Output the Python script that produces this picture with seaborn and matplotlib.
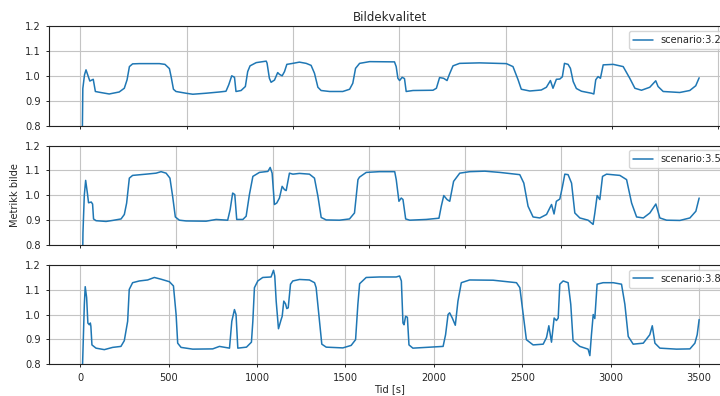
import matplotlib
matplotlib.use("Agg")
import matplotlib.pyplot as plt
from matplotlib.ticker import MultipleLocator
import seaborn as sns

# Scenario 3.2
t_32 = [0, 12, 20, 27, 45, 61, 71, 89, 136, 183, 207, 220, 231, 246, 278, 372, 398, 419, 427, 438,
        450, 497, 529, 591, 654, 685, 698, 712, 725, 732, 756, 776, 787, 798, 827, 874, 878, 889, 897, 913,
        928, 936, 949, 960, 971, 999, 1030, 1062, 1085, 1101, 1117, 1132, 1172, 1234, 1266, 1281, 1294, 1313, 1360, 1477,
        1485, 1493, 1501, 1513, 1524, 1532, 1564, 1658, 1674, 1689, 1708, 1724, 1736, 1752, 1783, 1877, 2003, 2034, 2058, 2073,
        2113, 2167, 2191, 2210, 2222, 2238, 2254, 2266, 2276, 2293, 2304, 2317, 2332, 2356, 2403, 2414, 2423, 2434, 2445, 2458,
        2505, 2552, 2583, 2607, 2638, 2677, 2705, 2716, 2740, 2818, 2865, 2893, 2909]
v_32 = [0.0, 0.95, 1.005, 1.025, 0.98, 0.987, 0.938, 0.935, 0.928, 0.936, 0.951, 0.985, 1.038, 1.049, 1.05, 1.05, 1.047, 1.03, 0.998, 0.947,
        0.938, 0.931, 0.927, 0.931, 0.936, 0.939, 0.965, 1.001, 0.995, 0.938, 0.942, 0.958, 1.018, 1.041, 1.054, 1.06, 1.052, 0.991, 0.975, 0.984,
        1.014, 1.007, 1.001, 1.018, 1.047, 1.051, 1.056, 1.051, 1.043, 1.011, 0.955, 0.942, 0.938, 0.938, 0.947, 0.971, 1.031, 1.051, 1.058, 1.057,
        1.038, 0.991, 0.982, 0.995, 0.99, 0.938, 0.942, 0.943, 0.951, 0.994, 0.991, 0.982, 1.009, 1.041, 1.051, 1.053, 1.05, 1.038, 0.985, 0.947,
        0.94, 0.944, 0.955, 0.982, 0.951, 0.987, 0.988, 0.997, 1.051, 1.047, 1.031, 0.978, 0.95, 0.939, 0.931, 0.928, 0.985, 0.998, 0.991, 1.045,
        1.047, 1.038, 0.991, 0.951, 0.943, 0.955, 0.981, 0.958, 0.938, 0.934, 0.942, 0.961, 0.993]

# Scenario 3.5
t_35 = [0, 14, 21, 28, 38, 43, 57, 64, 69, 82, 134, 168, 212, 229, 241, 255, 272, 342, 394, 420,
        446, 466, 480, 494, 515, 550, 654, 706, 766, 779, 792, 803, 813, 845, 862, 879, 897, 931, 975, 987,
        997, 1009, 1021, 1035, 1049, 1061, 1070, 1087, 1105, 1139, 1191, 1217, 1235, 1252, 1278, 1347, 1399, 1425, 1443, 1451,
        1486, 1555, 1634, 1642, 1656, 1668, 1677, 1691, 1712, 1798, 1864, 1876, 1889, 1906, 1920, 1940, 1972, 2024, 2102, 2180,
        2284, 2305, 2327, 2353, 2388, 2423, 2449, 2462, 2474, 2492, 2506, 2518, 2535, 2553, 2570, 2596, 2639, 2665, 2674, 2686,
        2700, 2714, 2735, 2804, 2839, 2865, 2891, 2926, 2960, 2991, 3012, 3047, 3116, 3168, 3199, 3216]
v_35 = [0.0, 0.85, 1.0, 1.06, 1.003, 0.97, 0.973, 0.965, 0.905, 0.898, 0.895, 0.899, 0.905, 0.923, 0.969, 1.069, 1.08, 1.085, 1.089, 1.095,
        1.089, 1.069, 0.996, 0.913, 0.9, 0.897, 0.896, 0.903, 0.9, 0.943, 1.009, 1.003, 0.903, 0.903, 0.916, 1.003, 1.076, 1.092, 1.096, 1.112,
        1.089, 0.963, 0.969, 0.989, 1.036, 1.023, 1.019, 1.089, 1.085, 1.088, 1.085, 1.069, 0.996, 0.911, 0.901, 0.9, 0.905, 0.929, 1.063, 1.073,
        1.092, 1.095, 1.095, 1.063, 0.976, 0.989, 0.983, 0.905, 0.9, 0.903, 0.908, 0.956, 0.999, 0.983, 0.976, 1.056, 1.089, 1.095, 1.097, 1.092,
        1.083, 1.049, 0.956, 0.913, 0.909, 0.923, 0.963, 0.925, 0.976, 0.985, 1.036, 1.085, 1.083, 1.049, 0.929, 0.909, 0.9, 0.883, 0.929, 0.999,
        0.983, 1.076, 1.085, 1.08, 1.063, 0.969, 0.913, 0.909, 0.929, 0.965, 0.909, 0.9, 0.899, 0.909, 0.936, 0.989]

# Scenario 3.8
t_38 = [0, 13, 23, 28, 36, 43, 51, 57, 60, 66, 89, 136, 183, 230, 249, 268, 277, 296, 334, 381,
        419, 457, 504, 527, 542, 551, 570, 636, 749, 787, 844, 857, 872, 881, 891, 940, 968, 976, 985, 1004,
        1032, 1079, 1093, 1100, 1108, 1121, 1136, 1142, 1151, 1161, 1168, 1176, 1189, 1202, 1240, 1296, 1325, 1334, 1353, 1366,
        1391, 1485, 1532, 1557, 1570, 1580,
        1617, 1692, 1787, 1806, 1816, 1825, 1831, 1840, 1850, 1859, 1881, 1957, 2052, 2066, 2080, 2089, 2104, 2121, 2136, 2155,
        2202, 2335, 2467, 2486, 2505, 2523, 2561, 2618, 2637, 2650, 2665, 2680, 2693, 2703, 2712, 2731, 2759, 2774, 2787, 2825,
        2872, 2882, 2891, 2901, 2910, 2923, 2957, 3014, 3061, 3080, 3099, 3127, 3184, 3221, 3235, 3250, 3278, 3372, 3448, 3476,
        3489, 3500]
v_38 = [0.0, 0.80, 1.04, 1.112, 1.068, 0.966, 0.959, 0.966, 0.953, 0.878, 0.865, 0.859, 0.868, 0.872, 0.895, 0.973, 1.101, 1.128, 1.135, 1.139,
        1.149, 1.142, 1.132, 1.115, 1.0, 0.885, 0.868, 0.861, 0.862, 0.872, 0.865, 0.973, 1.02, 1.0, 0.865, 0.869, 0.889, 0.973, 1.108, 1.135,
        1.149, 1.151, 1.178, 1.155, 1.054, 0.943, 0.98, 0.993, 1.054, 1.043, 1.024, 1.027, 1.122, 1.135, 1.141, 1.139, 1.128, 1.108, 0.973, 0.881,
        0.869, 0.866, 0.876, 0.899, 1.041, 1.124,
        1.149, 1.151, 1.151, 1.155, 1.135, 0.966, 0.959, 0.993, 0.989, 0.878, 0.865, 0.868, 0.872, 0.919, 1.0, 1.007, 0.986, 0.957, 1.054, 1.128,
        1.139, 1.138, 1.128, 1.108, 1.0, 0.899, 0.878, 0.881, 0.908, 0.955, 0.889, 0.986, 0.976, 0.986, 1.122, 1.135, 1.128, 1.041, 0.895, 0.872,
        0.861, 0.835, 0.919, 1.0, 0.984, 1.122, 1.128, 1.128, 1.122, 1.041, 0.912, 0.881, 0.885, 0.919, 0.955, 0.885, 0.865, 0.861, 0.862, 0.885,
        0.919, 0.98]

series = [("scenario:3.2", t_32, v_32),
          ("scenario:3.5", t_35, v_35),
          ("scenario:3.8", t_38, v_38)]

sns.set_style("ticks")
plt.rcParams.update({
    "font.family": ["DejaVu Sans"],
    "font.size": 7.1,
    "axes.linewidth": 0.8,
    "xtick.major.width": 0.7,
    "ytick.major.width": 0.7,
    "xtick.major.size": 2.5,
    "ytick.major.size": 2.5,
    "xtick.labelsize": 7.1,
    "ytick.labelsize": 7.1,
    "axes.edgecolor": "#222222",
})

fig, axes = plt.subplots(3, 1, figsize=(7.2, 3.96), dpi=100)
fig.subplots_adjust(left=0.0685, right=1.014, top=0.9336, bottom=0.080, hspace=0.198)

for ax, (name, t, v) in zip(axes, series):
    sns.lineplot(x=t, y=v, ax=ax, color="#1f77b4", linewidth=1.1,
                 estimator=None, label=name)
    ax.set_ylim(0.8, 1.2)
    ax.yaxis.set_major_locator(MultipleLocator(0.1))
    ax.xaxis.set_major_locator(MultipleLocator(500))
    ax.grid(True, color="#c4c4c4", linewidth=0.8)
    ax.set_axisbelow(True)
    ax.legend(loc="upper right", fontsize=7.1, frameon=True, fancybox=True,
              framealpha=0.8, edgecolor="#cccccc", handlelength=2.0)
    ax.set_ylabel("")

axes[0].tick_params(labelbottom=False)
axes[1].tick_params(labelbottom=False)
axes[0].set_title("Bildekvalitet", fontsize=8.5, pad=4)
axes[1].set_ylabel("Metrikk bilde", fontsize=7.1)
axes[2].set_xlabel("Tid [s]", fontsize=7.1, labelpad=1)

fig.savefig("out.png", dpi=100)
